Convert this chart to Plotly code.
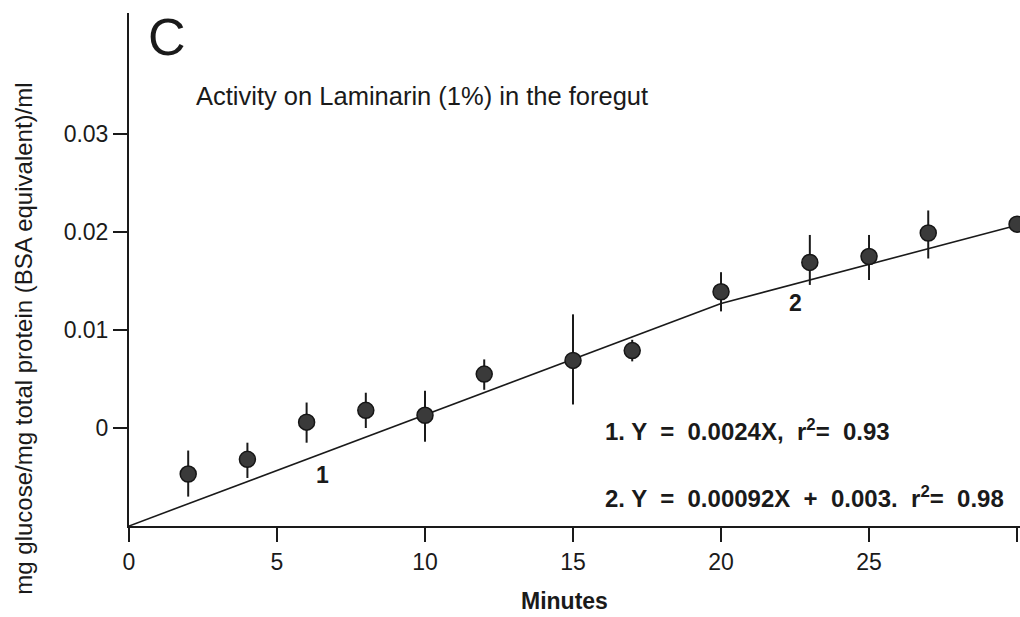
import plotly.graph_objects as go

# ---- data ----
minutes = [2, 4, 6, 8, 10, 12, 15, 17, 20, 23, 25, 27, 30]
activity = [-0.0047, -0.0032, 0.0006, 0.0018, 0.0013, 0.0055, 0.0069,
            0.0079, 0.0139, 0.0169, 0.0175, 0.0199, 0.0208]
err_up = [0.0024, 0.0017, 0.0020, 0.0018, 0.0025, 0.0015, 0.0047,
          0.0011, 0.0020, 0.0028, 0.0022, 0.0023, 0.0]
err_down = [0.0023, 0.0019, 0.0021, 0.0018, 0.0027, 0.0016, 0.0045,
            0.0011, 0.0020, 0.0023, 0.0024, 0.0026, 0.0]

fit1_x = [0, 20]
fit1_y = [-0.01, 0.0127]
fit2_x = [20, 30]
fit2_y = [0.0127, 0.0207]

x_tick_vals = [0, 5, 10, 15, 20, 25, 30]
x_tick_text = ["0", "5", "10", "15", "20", "25", ""]
y_tick_vals = [0, 0.01, 0.02, 0.03]
y_tick_text = ["0", "0.01", "0.02", "0.03"]

FONT = "Liberation Sans, Arial, Helvetica, sans-serif"
INK = "#1a1a1a"

fig = go.Figure()

fig.add_trace(go.Scatter(x=fit1_x, y=fit1_y, mode="lines",
                         line=dict(color=INK, width=1.6), hoverinfo="skip",
                         showlegend=False))
fig.add_trace(go.Scatter(x=fit2_x, y=fit2_y, mode="lines",
                         line=dict(color=INK, width=1.6), hoverinfo="skip",
                         showlegend=False))
fig.add_trace(go.Scatter(
    x=minutes, y=activity, mode="markers",
    marker=dict(size=16, color="#3a3a3a", line=dict(color="#161616", width=1.5)),
    error_y=dict(type="data", symmetric=False, array=err_up, arrayminus=err_down,
                 color=INK, thickness=2, width=0),
    showlegend=False))

annotations = [
    dict(text="C", x=1.3, y=0.0399, xref="x", yref="y", showarrow=False,
         xanchor="center", yanchor="middle", font=dict(size=52, family=FONT, color=INK)),
    dict(text="Activity on Laminarin (1%) in the foregut", x=2.2, y=0.0339,
         xref="x", yref="y", showarrow=False, xanchor="left", yanchor="middle",
         font=dict(size=25.5, family=FONT, color=INK)),
    dict(text="<b>1</b>", x=6.55, y=-0.0048, xref="x", yref="y", showarrow=False,
         font=dict(size=23, family=FONT, color=INK)),
    dict(text="<b>2</b>", x=22.5, y=0.0128, xref="x", yref="y", showarrow=False,
         font=dict(size=23, family=FONT, color=INK)),
    dict(text="<b>1. Y  =  0.0024X,  r<sup>2</sup>=  0.93</b>", x=16.0, y=-0.0002,
         xref="x", yref="y", showarrow=False, xanchor="left", yanchor="middle",
         font=dict(size=24, family=FONT, color=INK)),
    dict(text="<b>2. Y  =  0.00092X  +  0.003.  r<sup>2</sup>=  0.98</b>", x=16.0, y=-0.0070,
         xref="x", yref="y", showarrow=False, xanchor="left", yanchor="middle",
         font=dict(size=24, family=FONT, color=INK)),
    dict(text="<b>Minutes</b>", x=14.7, y=-0.146, xref="x", yref="paper",
         showarrow=False, xanchor="center", yanchor="middle",
         font=dict(size=23, family=FONT, color=INK)),
    dict(text="mg glucose/mg total protein (BSA equivalent)/ml", x=-0.118, y=0.0091,
         xref="paper", yref="y", showarrow=False, textangle=-90,
         xanchor="center", yanchor="middle",
         font=dict(size=24, family=FONT, color=INK)),
]

fig.update_layout(
    width=1020, height=617,
    margin=dict(l=129, r=0, t=13, b=91),
    paper_bgcolor="white", plot_bgcolor="white",
    annotations=annotations,
    xaxis=dict(range=[0, 30.1], showgrid=False, zeroline=False,
               showline=True, linecolor=INK, linewidth=2,
               ticks="outside", ticklen=14, tickwidth=1.5, tickcolor=INK,
               tickvals=x_tick_vals, ticktext=x_tick_text, ticklabelstandoff=0,
               tickfont=dict(size=23, family=FONT, color=INK)),
    yaxis=dict(range=[-0.01, 0.04235], showgrid=False, zeroline=False,
               showline=True, linecolor=INK, linewidth=2,
               ticks="outside", ticklen=14, tickwidth=1.5, tickcolor=INK,
               tickvals=y_tick_vals, ticktext=y_tick_text,
               tickfont=dict(size=23, family=FONT, color=INK)),
)

fig.write_html("out.html", config={"displayModeBar": False},
               post_script="document.body.style.margin='0';document.body.style.overflow='hidden';")
